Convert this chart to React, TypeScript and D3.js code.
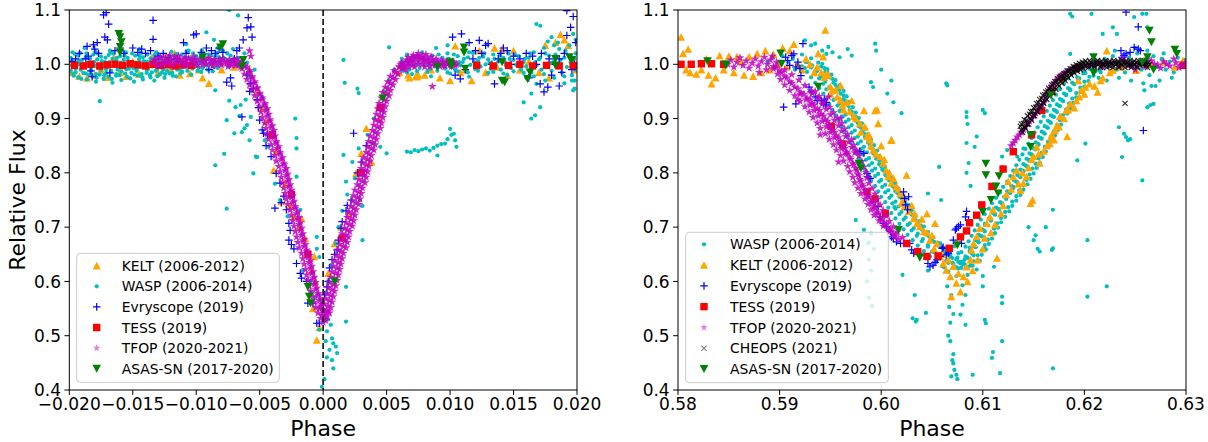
import React from "react";
import * as d3 from "d3";

type Pt = [number, number];

// ---------------- LEFT PANEL DATA (primary eclipse) ----------------
const keltL: Pt[] = [
  [-.0198,.985],[-.0192,.978],[-.0186,.975],[-.018,.98],[-.0175,.99],[-.017,.976],[-.0165,1.012],[-.016,.985],[-.0155,.978],[-.015,1.005],
  [-.0145,.982],[-.014,1.0],[-.0135,1.012],[-.013,.985],[-.0125,1.015],[-.012,.99],[-.0117,1.02],[-.0113,.98],[-.011,1.01],[-.0105,.983],
  [-.0101,1.0],[-.0098,.99],[-.0095,.975],[-.009,.965],[-.0086,1.0],[-.008,.99],[-.0075,1.005],[-.007,.995],[-.0065,1.0],
  [-.0058,.99],[-.0052,.95],[-.0048,.92],[-.0045,.895],[-.0039,.805],[-.0037,.84],[-.0033,.747],[-.0030,.78],[-.0026,.74],[-.0023,.72],
  [-.0017,.716],[-.0014,.679],[-.0019,.7],[-.0007,.646],[-.0009,.62],[-.0006,.6],[-.0005,.492],[-.0003,.515],[-.0008,.55],
  [.0004,.615],[.0009,.67],[.0014,.7],[.0020,.725],[.0026,.799],[.0030,.836],[.0034,.882],[.0038,.82],[.0044,.9],[.0050,.95],[.0074,.977],[.0067,.98],
  [.0060,.985],[.0068,.975],[.0075,.98],[.0085,.99],[.0092,.975],[.0098,1.005],[.0100,.97],[.0104,1.034],[.0108,.985],[.0112,.99],
  [.0117,.97],[.0123,1.025],[.0128,.985],[.0135,1.03],[.0137,.995],[.0141,1.028],[.0145,.98],[.0150,1.025],[.0155,.99],[.0162,1.005],
  [.0170,.985],[.0175,1.035],[.0178,.975],[.0183,1.04],[.0187,1.055],[.0190,1.045],[.0193,1.035],[.0196,1.0],[.0199,.99],[.0073,.978],[.0080,.98]
];

const waspLBand: Pt[] = [
  [-.0199,1.012],[-.0196,1.005],[-.0193,1.016],[-.0190,1.008],[-.0187,1.013],[-.0184,1.003],[-.0181,1.018],[-.0178,1.009],[-.0175,1.014],[-.0172,1.004],
  [-.0169,1.017],[-.0166,1.010],[-.0163,1.006],[-.0160,1.015],[-.0157,1.008],[-.0154,1.012],[-.0151,1.003],[-.0148,1.016],[-.0145,1.009],[-.0142,1.013],
  [-.0139,1.005],[-.0136,1.011],[-.0133,1.017],[-.0130,1.007],[-.0127,1.012],[-.0124,1.004],[-.0121,1.014],[-.0118,1.008],[-.0115,1.019],[-.0112,1.006],
  [-.0109,1.012],[-.0106,1.025],[-.0103,1.009],[-.0100,1.015],[-.0097,1.003],[-.0094,1.02],[-.0091,1.01],[-.0088,1.017],[-.0085,1.006],[-.0082,1.013],
  [-.0079,1.025],[-.0076,1.008],[-.0073,1.016],[-.0070,1.004],[-.0067,1.012],
  [-.0198,.998],[-.0195,.992],[-.0192,1.0],[-.0189,.994],[-.0186,.999],[-.0183,.99],[-.0180,.997],[-.0177,.993],[-.0174,1.0],[-.0171,.991],
  [-.0168,.996],[-.0165,.999],[-.0162,.99],[-.0159,.995],[-.0156,1.0],[-.0153,.992],[-.0150,.997],[-.0147,.99],[-.0144,.995],[-.0141,.999],
  [-.0138,.991],[-.0135,.996],[-.0132,.988],[-.0129,.995],[-.0126,.99],[-.0123,.998],[-.0119,.993],[-.0116,.999],[-.0113,.99],[-.0110,.996],
  [-.0104,.999],[-.0098,.994],[-.0092,.998],[-.0086,.995],[-.0080,.999],[-.0074,.996],[-.0068,.998],
  [-.0197,.982],[-.0193,.976],[-.0189,.984],[-.0186,.972],[-.0182,.978],[-.0179,.968],[-.0176,.981],[-.0173,.973],[-.0169,.977],[-.0166,.966],
  [-.0163,.979],[-.0159,.971],[-.0156,.983],[-.0152,.974],[-.0149,.968],[-.0146,.979],[-.0142,.972],[-.0139,.984],[-.0136,.976],[-.0133,.97],
  [-.0129,.981],[-.0125,.975],[-.0121,.983],[-.0116,.978],[-.0111,.986],[-.0104,.981],[-.0096,.986],
  [-.01985,1.006],[-.01955,1.019],[-.01925,1.006],[-.01895,1.0],[-.01865,1.02],[-.01835,1.01],[-.01805,1.004],[-.01775,1.02],[-.01745,1.006],[-.01715,1.012],
  [-.01685,1.004],[-.01655,1.02],[-.01625,1.012],[-.01595,1.003],[-.01565,1.016],[-.01535,1.006],[-.01505,1.02],[-.01475,1.003],[-.01445,1.015],[-.01415,1.006],
  [-.01385,1.018],[-.01355,1.004],[-.01325,1.01],[-.01295,1.018],[-.01265,1.003],[-.01235,1.01],[-.01205,1.006],[-.01175,1.015],[-.01145,1.004],[-.01115,1.018],
  [-.01085,1.004],[-.01055,1.012],[-.01025,1.02],[-.00995,1.008],[-.00965,1.014],[-.00935,1.004],[-.00905,1.018],[-.00875,1.008],[-.00845,1.015],[-.00815,1.004],
  [-.00785,1.012],[-.00755,1.02],[-.00725,1.006],[-.00695,1.01],
  [-.0199,.988],[-.0195,.985],[-.0191,.99],[-.0187,.983],[-.0183,.987],[-.0179,.982],[-.0175,.99],[-.0171,.984],[-.0167,.988],[-.0163,.982],
  [-.0159,.987],[-.0155,.991],[-.0151,.984],[-.0147,.988],[-.0143,.982],[-.0139,.99],[-.0135,.985],[-.0131,.991],[-.0127,.985],[-.0123,.988],
  [-.0119,.984],[-.0115,.99],[-.0111,.994],[-.0107,.988],[-.0103,.992],[-.0099,.988],[-.0095,.993],[-.0091,.99],[-.0087,.987],[-.0083,.993],
  [-.01975,1.022],[-.01915,1.021],[-.01855,1.002],[-.01795,1.023],[-.01735,.996],[-.01675,1.022],[-.01615,.997],[-.01555,1.022],[-.01495,.993],[-.01435,1.021],
  [-.01375,.997],[-.01315,1.022],[-.01255,.995],[-.01195,1.023],[-.01135,.997],[-.01075,1.024],[-.01015,.996],[-.00955,1.025],[-.00895,1.0],[-.00835,1.021],
  [-.01965,.979],[-.01905,.973],[-.01845,.981],[-.01785,.975],[-.01725,.98],[-.01665,.973],[-.01605,.98],[-.01545,.977],[-.01485,.981],[-.01425,.976],
  [-.01365,.98],[-.01305,.978],[-.01245,.982],[-.01185,.979],[-.01125,.983]
];

const waspLOut: Pt[] = [
  [-.0188,1.03],[-.0176,.932],[-.0168,1.025],[-.0145,1.028],[-.0108,1.037],[-.0092,1.059],[-.0086,1.045],[-.0080,1.035],[-.0074,1.1],[-.0067,1.09],
  [-.0083,1.03],[-.0071,1.028],[-.0062,1.02],[-.0060,1.003],
  [-.0085,.952],[-.0078,.835],[-.0085,.814],[-.0076,.734],[-.0074,.933],[-.0069,.921],[-.0065,.925],[-.0064,.875],[-.0066,.905],[-.0057,.903],
  [-.0055,.799],[-.0052,.829],[-.0046,.86],[-.0043,.848],[-.0076,.897],[-.0070,.873],[-.0062,.882],[-.0060,.888],[-.0058,.86],[-.0053,.83],
  [-.0061,.935],[-.0056,.95],[-.0048,.94],[-.0045,.92],[-.0022,.9],[-.0021,.864],[-.0021,.845],[-.0021,.793],[-.0018,.732],[-.0005,.682],
  [-.0005,.66],[-.0003,.645],[-.0058,.978],[-.0054,.99],[-.0038,.78],[-.0034,.75],[-.0028,.72],[-.0016,.62],[-.0010,.6],[-.0009,.58],[-.0006,.57],
  [-.0003,.511],[.0003,.508],[.0007,.495],[.0008,.486],[.0005,.474],[.0007,.455],[.0008,.44],[-.0001,.406],[.0001,.42],[.0018,.526],
  [.0018,.59],[.0004,.53],[.0010,.48],[.0011,.468],[.0003,.46],[.0002,.49],[.0006,.52],[-.0001,.56],[.0002,.58],[.0004,.6],[.0006,.63],
  [.0016,1.008],[.0017,.966],[.0028,.947],[.0027,.955],[.0016,.833],[.0028,.845],[.0039,.855],[.0045,.848],[.0050,.836],[.0031,.676],
  [.0031,.739],[.0029,.75],[.0018,.784],[.0019,.76],[.0015,.73],[.0023,.82],[.0025,.79],[.0012,.7],[.0010,.67],[.0035,.87],[.0040,.9],
  [.0048,.95],[.0052,1.031],[.0052,.97],[.0056,.99],
  [.0066,.839],[.0069,.838],[.0072,.842],[.0075,.84],[.0078,.843],[.0081,.845],[.0084,.841],[.0087,.846],[.0090,.832],[.0090,.85],
  [.0093,.853],[.0096,.854],[.0098,.862],[.0100,.881],[.0101,.87],[.0103,.872],[.0104,.86],[.0105,.848]
];

const waspLRight: Pt[] = [
  [.0062,1.01],[.0066,1.018],[.0070,1.006],[.0074,1.015],[.0078,1.022],[.0082,1.008],[.0086,1.016],[.0090,1.005],[.0094,1.012],[.0098,1.02],
  [.0102,1.007],[.0106,1.015],[.0110,1.004],[.0114,1.013],[.0118,1.021],[.0122,1.006],[.0126,1.014],[.0130,1.009],[.0134,1.018],[.0138,1.005],
  [.0142,1.012],[.0146,1.02],[.0150,1.008],[.0154,1.015],[.0158,1.004],[.0162,1.012],[.0166,1.022],[.0170,1.009],[.0174,1.03],[.0178,1.016],
  [.0182,1.006],[.0186,1.028],[.0190,1.012],[.0194,1.035],[.0198,1.01],
  [.0064,.996],[.0068,.99],[.0072,.998],[.0076,.993],[.0080,.999],[.0084,.991],[.0088,.996],[.0092,.999],[.0096,.992],[.0100,.997],
  [.0104,.99],[.0108,.998],[.0112,.993],[.0116,.999],[.0120,.991],[.0124,.996],[.0128,1.0],[.0132,.992],[.0136,.997],[.0140,.99],
  [.0144,.998],[.0148,.993],[.0152,.999],[.0156,.99],[.0160,.996],[.0164,.985],[.0168,.998],[.0172,.99],[.0176,.996],[.0180,.988],
  [.0184,.997],[.0188,.985],[.0192,.995],[.0196,.98],[.0199,.99],
  [.0063,1.004],[.0067,1.0],[.0071,1.014],[.0075,1.003],[.0079,1.012],[.0083,1.0],[.0087,1.007],[.0091,1.018],[.0095,1.004],[.0099,1.01],
  [.0103,1.018],[.0107,1.004],[.0111,1.01],[.0115,1.022],[.0119,1.004],[.0123,1.012],[.0127,1.02],[.0131,1.003],[.0135,1.01],[.0139,1.016],
  [.0143,1.004],[.0147,1.01],[.0151,1.018],[.0155,1.003],[.0159,1.01],[.0163,1.02],[.0167,1.004],[.0171,1.012],[.0175,1.02],[.0179,1.002],
  [.0183,1.018],[.0187,1.008],[.0191,1.025],[.0195,1.004],[.0199,1.02],
  [.0062,.988],[.0066,.985],[.0074,.987],[.0082,.986],[.0090,.988],[.0098,.985],[.0106,.987],[.0114,.985],[.0122,.988],[.0134,.986],
  [.0142,.983],[.0150,.987],[.0158,.984],[.0166,.978],[.0174,.982],[.0182,.975],[.0190,.978],[.0198,.97],
  [.0070,.982],[.0085,.978],[.0100,.983],[.0115,.977],[.0130,.984],[.0145,.98],[.0160,.975],[.0175,.97],[.0190,.965],[.0198,.955],[.0196,.97],
  [.0158,.93],[.0164,.946],[.0168,.964],[.0171,.921],[.0164,.9],[.0167,.906],[.0168,1.074],[.0171,1.071],[.0180,1.05],[.0177,1.042],
  [.0185,1.04],[.0197,.952],[.0197,1.056],[.0199,1.045],[.0182,1.035],[.0089,1.03],[.0098,1.035]
];

const evryL: Pt[] = [
  [-.0173,1.091],[-.0171,1.095],[-.0169,1.074],[-.0172,1.05],[-.0170,1.045],[-.0186,1.033],[-.0181,1.036],[-.0180,1.028],[-.0177,1.02],[-.0185,1.015],
  [-.0187,1.01],[-.0183,.988],[-.0182,.977],[-.0168,.984],[-.0164,1.025],[-.0160,1.03],[-.0157,1.02],[-.0150,1.03],[-.0146,1.022],[-.0143,1.028],
  [-.0140,1.02],[-.0136,1.025],[-.0134,1.046],[-.0134,1.081],[-.0130,1.015],[-.0126,1.02],[-.0122,1.012],[-.0115,1.01],[-.0108,1.02],[-.0102,1.054],
  [-.0100,1.056],[-.0096,1.022],[-.0092,1.03],[-.0088,1.025],[-.0085,1.02],[-.0082,1.03],[-.0079,1.022],[-.0076,.967],[-.0073,.975],[-.0070,1.01],
  [-.0068,1.025],[-.0066,1.03],[-.0063,1.045],[-.0060,1.067],[-.0059,1.086],[-.0057,1.069],[-.0056,1.05],[-.0195,1.01],[-.0192,1.02],[-.0198,1.005],
  [-.0178,1.04],[-.0110,1.04],[-.0090,.99],[-.0060,.98],[-.0072,.96],[-.0058,.95],[-.0064,.903],
  [-.0057,.965],[-.0055,.955],[-.0052,.935],[-.0051,.92],[-.0050,.897],[-.0048,.879],[-.0047,.873],[-.0045,.85],[-.0044,.87],[-.0041,.83],
  [-.0037,.799],[-.0034,.781],[-.0031,.757],[-.0029,.732],[-.0027,.707],[-.0026,.694],[-.0027,.676],[-.0025,.668],[-.0021,.633],[-.0018,.615],
  [-.0017,.606],[-.0013,.6],[-.0012,.56],[-.0008,.56],[-.0005,.523],[-.0003,.523],[-.0038,.735],[-.0033,.745],[-.0023,.66],
  [.0001,.575],[.0003,.59],[.0004,.6],[.0005,.625],[.0007,.64],[.0009,.65],[.0011,.658],[.0012,.676],[.0014,.698],[.0015,.71],
  [.0018,.73],[.0019,.74],[.0022,.75],[.0024,.873],[.0027,.8],[.0030,.82],[.0034,.85],
  [.0102,1.05],[.0109,1.056],[.0115,1.04],[.0123,1.044],[.0128,1.035],[.0130,1.038],[.0140,1.02],[.0145,1.025],[.0150,1.015],[.0108,.973],
  [.0104,.98],[.0112,.99],[.0118,1.01],[.0125,1.02],[.0135,.964],[.0138,1.01],[.0142,1.03],[.0155,1.01],[.0160,1.02],[.0165,1.015],
  [.0171,.964],[.0174,.949],[.0177,.958],[.0180,.98],[.0183,1.0],[.0186,1.01],[.0188,.985],[.0190,1.02],[.0192,1.053],[.0195,1.068],
  [.0197,1.088],[.0192,1.099],[.0198,1.0],[.0168,1.0],[.0172,1.02],[.0178,1.01],[.0196,.99],[.0199,1.04],[.0186,.96],[.0162,.975],
  [.0148,1.0],[.0133,1.0],[.0120,1.025]
];

const tessL: Pt[] = [
  [-.0196,.998],[-.0189,.997],[-.0183,1.0],[-.0176,.997],[-.0170,.999],[-.0164,1.0],[-.0158,.998],[-.0152,1.001],[-.0146,.999],[-.0140,.997],
  [-.0134,1.0],[-.0128,.998],[-.0122,.999],[-.0116,.997],[-.0110,.999],[-.0104,.998],
  [-.004,.87],[-.0025,.76],[-.0012,.65],[.0015,.68],[.003,.8],[.0045,.92],
  [.0121,.998],[.0134,.997],[.0146,.998],[.0155,1.0],[.0165,.997],[.0176,.998],[.0186,.997],[.0197,.998]
];

const tfopLFlat: Pt[] = [
  [-.0134,1.003],[-.0131,1.01],[-.0129,.999],[-.0127,1.007],[-.0124,1.012],[-.0122,1.002],[-.0120,1.009],[-.0117,1.014],[-.0115,1.004],[-.0113,1.01],
  [-.0110,.999],[-.0108,1.006],[-.0106,1.011],[-.0103,1.002],[-.0101,1.008],[-.0099,.998],[-.0096,1.005],[-.0094,1.01],[-.0092,1.0],[-.0089,1.006],
  [-.0087,.997],[-.0085,1.004],[-.0082,1.009],[-.0080,.999],[-.0078,1.005],[-.0075,.996],[-.0073,1.003],[-.0071,1.008],[-.0069,.998],[-.0067,1.004],
  [-.0065,.995],[-.0063,1.001],[-.0058,1.025],[-.0057,1.015],
  [-.0133,1.008],[-.0130,.997],[-.0128,1.013],[-.0125,1.0],[-.0123,1.006],[-.0121,1.016],[-.0118,.999],[-.0116,1.007],[-.0114,1.015],[-.0111,1.003],
  [-.0109,1.012],[-.0107,.998],[-.0104,1.007],[-.0102,1.014],[-.0100,1.003],[-.0097,1.01],[-.0095,.999],[-.0093,1.007],[-.0090,1.012],[-.0088,1.002],
  [-.0086,1.009],[-.0083,.999],[-.0081,1.005],[-.0079,1.011],[-.0076,1.002],[-.0074,1.008],[-.0072,.998],[-.0070,1.004],[-.0068,1.01],[-.0066,1.0],
  [-.0064,1.006],[-.0062,.997],
  [.0060,.995],[.0062,1.003],[.0064,.998],[.0066,1.008],[.0068,1.002],[.0070,1.012],[.0072,1.005],[.0074,1.015],[.0076,1.008],[.0078,1.016],
  [.0080,1.006],[.0082,1.012],[.0084,1.002],[.0086,1.008],[.0088,.998],[.0090,1.004],[.0092,.996],[.0094,1.003],[.0096,.997],[.0098,1.004],
  [.0100,.999],[.0102,1.005],[.0104,.998],[.0086,.959],[.0075,1.0],[.0080,.995],[.0070,.998],[.0065,.99],
  [.0061,1.0],[.0063,.993],[.0065,1.004],[.0067,1.013],[.0069,1.006],[.0071,1.017],[.0073,1.01],[.0075,1.02],[.0077,1.012],[.0079,1.008],
  [.0081,1.018],[.0083,1.005],[.0085,1.014],[.0087,1.003],[.0089,1.01],[.0091,1.0],[.0093,1.008],[.0095,.998],[.0097,1.006],[.0099,1.002],
  [.0101,.996],[.0103,1.003],[.0105,1.0],[.0072,.995],[.0078,1.0],[.0084,.996],[.0067,.996]
];

const tfopLArms: Pt[] = [
  [-.0064,.992],[-.0058,.988],[-.0062,.982],[-.0056,.977],[-.0060,.972],[-.0054,.968],[-.0058,.962],[-.0052,.957],[-.0056,.953],[-.0050,.947],
  [-.0054,.942],[-.0048,.938],[-.0052,.932],[-.0046,.928],[-.0050,.922],[-.0044,.918],[-.0049,.912],[-.0043,.908],[-.0048,.902],[-.0042,.898],
  [-.0046,.892],[-.0040,.887],[-.0045,.882],[-.0039,.878],[-.0044,.872],[-.0038,.868],[-.0043,.862],[-.0037,.858],[-.0041,.852],[-.0035,.848],
  [-.0040,.842],[-.0034,.838],[-.0038,.832],[-.0032,.828],[-.0037,.822],[-.0031,.818],[-.0035,.812],[-.0029,.808],[-.0034,.802],[-.0028,.798],
  [-.0033,.792],[-.0027,.788],[-.0032,.782],[-.0026,.778],[-.0031,.772],[-.0025,.768],[-.0030,.762],[-.0024,.758],[-.0029,.752],[-.0023,.748],
  [-.0028,.742],[-.0022,.738],[-.0026,.732],[-.0020,.728],[-.0025,.722],[-.0019,.718],[-.0024,.712],[-.0018,.708],[-.0023,.702],[-.0017,.698],
  [-.0022,.692],[-.0016,.688],[-.0021,.682],[-.0015,.678],[-.0020,.672],[-.0014,.668],[-.0019,.662],[-.0013,.658],[-.0017,.652],[-.0011,.648],
  [-.0016,.642],[-.0010,.638],[-.0015,.632],[-.0009,.628],[-.0014,.622],[-.0008,.618],[-.0013,.612],[-.0007,.608],[-.0012,.602],[-.0006,.598],
  [-.0011,.592],[-.0005,.588],[-.0010,.582],[-.0004,.578],[-.0008,.572],[-.0002,.568],[-.0007,.562],[-.0001,.558],[-.0006,.552],[.0000,.548],
  [-.0004,.542],[.0001,.538],[-.0002,.532],[.0002,.528],[.0000,.525],[.0003,.535],[-.0003,.55],[.0004,.545],
  [-.0060,.995],[-.0058,.985],[-.0056,.975],[-.0054,.965],[-.0052,.955],[-.0050,.945],[-.0048,.935],[-.0046,.925],[-.0045,.915],[-.0044,.905],
  [-.0042,.895],[-.0041,.885],[-.0040,.875],[-.0039,.865],[-.0037,.855],[-.0036,.845],[-.0034,.835],[-.0033,.825],[-.0031,.815],[-.0030,.805],
  [-.0029,.795],[-.0028,.785],[-.0027,.775],[-.0026,.765],[-.0025,.755],[-.0024,.745],[-.0022,.735],[-.0021,.725],[-.0020,.715],[-.0019,.705],
  [-.0018,.695],[-.0017,.685],[-.0016,.675],[-.0015,.665],[-.0013,.655],[-.0012,.645],[-.0011,.635],[-.0010,.625],[-.0009,.615],[-.0008,.605],
  [-.0007,.595],[-.0006,.585],[-.0004,.575],[-.0003,.565],[-.0002,.555],[.0000,.545],[.0001,.532],
  [-.0001,.538],[.0005,.542],[.0000,.548],[.0006,.552],[.0001,.558],[.0007,.562],[.0002,.568],[.0008,.572],[.0003,.578],[.0009,.582],
  [.0004,.588],[.0010,.592],[.0005,.598],[.0011,.602],[.0006,.608],[.0012,.612],[.0007,.618],[.0013,.622],[.0008,.628],[.0014,.632],
  [.0009,.638],[.0015,.642],[.0010,.648],[.0016,.652],[.0012,.658],[.0018,.662],[.0013,.668],[.0019,.672],[.0014,.678],[.0020,.682],
  [.0015,.688],[.0021,.692],[.0017,.698],[.0023,.702],[.0018,.708],[.0024,.712],[.0019,.718],[.0025,.722],[.0020,.728],[.0026,.732],
  [.0022,.738],[.0028,.742],[.0023,.748],[.0029,.752],[.0024,.758],[.0030,.762],[.0025,.768],[.0031,.772],[.0027,.778],[.0033,.782],
  [.0028,.788],[.0034,.792],[.0029,.798],[.0035,.802],[.0030,.808],[.0036,.812],[.0031,.818],[.0037,.822],[.0032,.828],[.0038,.832],
  [.0034,.838],[.0040,.842],[.0035,.848],[.0041,.852],[.0036,.858],[.0042,.862],[.0037,.868],[.0043,.872],[.0039,.878],[.0045,.882],
  [.0040,.888],[.0046,.892],[.0041,.898],[.0047,.902],[.0042,.908],[.0048,.912],[.0043,.918],[.0049,.922],[.0044,.928],[.0050,.932],
  [.0046,.938],[.0052,.942],[.0047,.948],[.0053,.952],[.0049,.958],[.0055,.962],[.0051,.968],[.0057,.972],[.0053,.978],[.0059,.982],
  [.0056,.988],[.0062,.992],
  [.0003,.545],[.0004,.555],[.0005,.565],[.0006,.575],[.0007,.585],[.0008,.595],[.0009,.605],[.0010,.615],[.0011,.625],[.0012,.635],
  [.0013,.645],[.0014,.655],[.0016,.665],[.0017,.675],[.0018,.685],[.0019,.695],[.0021,.705],[.0022,.715],[.0023,.725],[.0024,.735],
  [.0026,.745],[.0027,.755],[.0028,.765],[.0029,.775],[.0031,.785],[.0032,.795],[.0033,.805],[.0034,.815],[.0035,.825],[.0036,.835],
  [.0038,.845],[.0039,.855],[.0040,.865],[.0041,.875],[.0043,.885],[.0044,.895],[.0045,.905],[.0046,.915],[.0047,.925],[.0048,.935],
  [.0050,.945],[.0051,.955],[.0053,.965],[.0055,.975],[.0057,.985],[.0060,.995]
];

const asasL: Pt[] = [
  [-.0161,1.056],[-.0160,1.05],[-.0159,1.041],[-.0160,1.032],[-.0160,1.022],[-.0081,1.031],[-.0079,1.037],[-.0095,1.013],[-.0064,.996],[-.0063,1.008],
  [-.0012,.59],[-.0011,.572],[-.0010,.56],[.0009,.6],[.0047,.937],[.0090,.995],[.0100,1.004],[.0101,.997],[.0111,1.031],[.0111,1.022],
  [.0112,.992],[.0141,1.004],[.0141,.97],[.0143,.967],[.0161,.973],[.0163,.985],[.0183,1.01],[.0183,.998],[.0194,1.013],[.0196,1.008]
];

// ---------------- RIGHT PANEL DATA (secondary eclipse) ----------------
const waspRBand: Pt[] = [
  [.5888,1.005],[.5893,1.012],[.5898,1.0],[.5903,1.015],[.5908,1.005],[.5913,1.01],[.5918,.998],[.5922,1.018],[.5927,1.004],[.5931,1.011],[.5925,.993],[.5915,.99],
  [.5926,1.004],[.5932,.998],[.5938,1.003],[.5931,.994],[.5937,.988],[.5944,.993],[.5935,.984],[.5941,.978],[.5947,.985],[.5939,.974],[.5945,.968],[.5952,.973],
  [.5943,.964],[.5949,.958],[.5955,.962],[.5946,.954],[.5953,.948],[.5959,.953],[.5950,.944],[.5956,.937],[.5963,.943],[.5953,.934],[.5959,.928],[.5965,.932],
  [.5957,.924],[.5962,.918],[.5968,.923],[.5959,.914],[.5965,.907],[.5971,.913],[.5962,.904],[.5968,.898],[.5975,.903],[.5965,.894],[.5971,.888],[.5977,.892],
  [.5968,.884],[.5974,.878],[.5980,.883],[.5971,.874],[.5977,.867],[.5983,.873],[.5974,.864],[.5980,.858],[.5987,.863],[.5977,.854],[.5983,.848],[.5989,.852],
  [.5980,.844],[.5986,.838],[.5992,.843],[.5982,.834],[.5988,.827],[.5994,.833],[.5985,.824],[.5991,.818],[.5998,.823],[.5988,.814],[.5994,.808],[.6000,.812],
  [.5991,.804],[.5997,.798],[.6003,.803],[.5994,.794],[.6000,.787],[.6006,.793],[.5998,.784],[.6004,.778],[.6011,.783],[.6001,.774],[.6007,.768],[.6013,.772],
  [.6004,.764],[.6010,.758],[.6016,.763],[.6008,.754],[.6014,.747],[.6020,.753],[.6011,.744],[.6017,.738],[.6024,.743],[.6014,.734],[.6020,.728],[.6026,.732],
  [.6018,.724],[.6024,.718],[.6030,.723],[.6022,.714],[.6028,.707],[.6034,.713],[.6026,.704],[.6032,.698],[.6039,.703],[.6030,.694],[.6036,.688],[.6042,.692],
  [.6035,.684],[.6041,.678],[.6047,.683],[.6040,.674],[.6046,.667],[.6052,.673],[.6046,.664],[.6052,.658],[.6059,.663],[.6052,.654],[.6058,.648],[.6064,.652],
  [.6058,.644],[.6064,.638],[.6070,.643],[.6066,.634],[.6072,.627],[.6078,.633],
  [.5922,.996],[.5942,1.001],[.5927,.986],[.5947,.991],[.5941,.996],[.5931,.976],[.5951,.981],[.5945,.986],[.5935,.966],[.5955,.971],[.5949,.976],
  [.5939,.956],[.5959,.961],[.5953,.966],[.5943,.946],[.5963,.951],[.5957,.956],[.5946,.936],[.5966,.941],[.5960,.946],[.5949,.926],[.5969,.931],[.5963,.936],
  [.5952,.916],[.5972,.921],[.5966,.926],[.5955,.906],[.5975,.911],[.5969,.916],[.5958,.896],[.5978,.901],[.5972,.906],[.5961,.886],[.5981,.891],[.5975,.896],
  [.5964,.876],[.5984,.881],[.5978,.886],[.5967,.866],[.5987,.871],[.5981,.876],[.5970,.856],[.5990,.861],[.5984,.866],[.5973,.846],[.5993,.851],[.5987,.856],
  [.5976,.836],[.5996,.841],[.5990,.846],[.5978,.826],[.5998,.831],[.5992,.836],[.5981,.816],[.6001,.821],[.5995,.826],[.5984,.806],[.6004,.811],[.5998,.816],
  [.5987,.796],[.6007,.801],[.6001,.806],[.5990,.786],[.6010,.791],[.6004,.796],[.5994,.776],[.6014,.781],[.6008,.786],[.5997,.766],[.6017,.771],[.6011,.776],
  [.6000,.756],[.6020,.761],[.6014,.766],[.6004,.746],[.6024,.751],[.6018,.756],[.6007,.736],[.6027,.741],[.6021,.746],[.6010,.726],[.6030,.731],[.6024,.736],
  [.6014,.716],[.6034,.721],[.6028,.726],[.6018,.706],[.6038,.711],[.6032,.716],[.6022,.696],[.6042,.701],[.6036,.706],[.6026,.686],[.6046,.691],[.6040,.696],
  [.6031,.676],[.6051,.681],[.6045,.686],[.6036,.666],[.6056,.671],[.6050,.676],[.6042,.656],[.6062,.661],[.6056,.666],[.6048,.646],[.6068,.651],[.6062,.656],
  [.6054,.636],[.6074,.641],[.6068,.646],[.6062,.626],[.6082,.631],[.6076,.636],
  [.6050,.655],[.6055,.64],[.6060,.628],[.6062,.66],[.6066,.618],[.6068,.645],[.6071,.632],[.6074,.61],[.6076,.652],[.6079,.625],[.6082,.64],[.6085,.612],
  [.6088,.63],[.6091,.648],[.6094,.622],[.6097,.638],[.6100,.61],[.6058,.67],[.6072,.665],[.6087,.662],[.6102,.66],[.6046,.62],[.6040,.65],
  [.6074,.626],[.6080,.632],[.6086,.627],[.6079,.636],[.6085,.643],[.6091,.637],[.6083,.646],[.6089,.652],[.6095,.648],[.6087,.656],[.6093,.663],[.6099,.657],
  [.6090,.666],[.6096,.672],[.6102,.667],[.6093,.676],[.6099,.683],[.6105,.677],[.6096,.686],[.6102,.692],[.6108,.688],[.6099,.696],[.6105,.703],[.6111,.697],
  [.6102,.706],[.6108,.712],[.6114,.707],[.6106,.716],[.6112,.723],[.6118,.717],[.6110,.726],[.6116,.732],[.6122,.728],[.6113,.736],[.6119,.743],[.6125,.737],
  [.6117,.746],[.6123,.752],[.6129,.747],[.6121,.756],[.6127,.763],[.6133,.757],[.6124,.766],[.6130,.772],[.6136,.768],[.6128,.776],[.6134,.783],[.6140,.777],
  [.6131,.786],[.6137,.792],[.6143,.787],[.6134,.796],[.6140,.803],[.6146,.797],[.6137,.806],[.6143,.812],[.6149,.808],[.6140,.816],[.6146,.823],[.6152,.817],
  [.6143,.826],[.6149,.832],[.6155,.827],[.6146,.836],[.6152,.843],[.6158,.837],[.6149,.846],[.6155,.852],[.6161,.848],[.6152,.856],[.6158,.863],[.6164,.857],
  [.6155,.866],[.6161,.872],[.6167,.867],[.6158,.876],[.6164,.883],[.6170,.877],[.6161,.886],[.6167,.892],[.6173,.888],[.6164,.896],[.6170,.903],[.6176,.897],
  [.6167,.906],[.6173,.912],[.6179,.907],[.6170,.916],[.6176,.923],[.6182,.917],[.6173,.926],[.6179,.932],[.6185,.928],[.6176,.936],[.6182,.943],[.6188,.937],
  [.6180,.946],[.6186,.952],[.6192,.947],[.6184,.956],[.6190,.963],[.6196,.957],[.6188,.966],[.6194,.972],[.6200,.968],[.6193,.976],[.6199,.983],[.6205,.977],
  [.6199,.986],[.6205,.992],[.6211,.987],
  [.6070,.634],[.6090,.629],[.6076,.624],[.6075,.644],[.6095,.639],[.6081,.634],[.6079,.654],[.6099,.649],[.6085,.644],[.6083,.664],[.6103,.659],[.6089,.654],
  [.6086,.674],[.6106,.669],[.6092,.664],[.6089,.684],[.6109,.679],[.6095,.674],[.6092,.694],[.6112,.689],[.6098,.684],[.6095,.704],[.6115,.699],[.6101,.694],
  [.6098,.714],[.6118,.709],[.6104,.704],[.6102,.724],[.6122,.719],[.6108,.714],[.6106,.734],[.6126,.729],[.6112,.724],[.6109,.744],[.6129,.739],[.6115,.734],
  [.6113,.754],[.6133,.749],[.6119,.744],[.6117,.764],[.6137,.759],[.6123,.754],[.6120,.774],[.6140,.769],[.6126,.764],[.6124,.784],[.6144,.779],[.6130,.774],
  [.6127,.794],[.6147,.789],[.6133,.784],[.6130,.804],[.6150,.799],[.6136,.794],[.6133,.814],[.6153,.809],[.6139,.804],[.6136,.824],[.6156,.819],[.6142,.814],
  [.6139,.834],[.6159,.829],[.6145,.824],[.6142,.844],[.6162,.839],[.6148,.834],[.6145,.854],[.6165,.849],[.6151,.844],[.6148,.864],[.6168,.859],[.6154,.854],
  [.6151,.874],[.6171,.869],[.6157,.864],[.6154,.884],[.6174,.879],[.6160,.874],[.6157,.894],[.6177,.889],[.6163,.884],[.6160,.904],[.6180,.899],[.6166,.894],
  [.6163,.914],[.6183,.909],[.6169,.904],[.6166,.924],[.6186,.919],[.6172,.914],[.6169,.934],[.6189,.929],[.6175,.924],[.6172,.944],[.6192,.939],[.6178,.934],
  [.6176,.954],[.6196,.949],[.6182,.944],[.6180,.964],[.6200,.959],[.6186,.954],[.6184,.974],[.6204,.969],[.6190,.964],[.6189,.984],[.6209,.979],[.6195,.974],
  [.6195,.994],[.6215,.989],[.6201,.984],
  [.6208,.99],[.6212,1.005],[.6216,.985],[.6220,1.01],[.6224,.995],[.6228,1.015],[.6232,.99],[.6236,1.008],[.6240,.985],[.6244,1.012],[.6248,.995],[.6252,1.02],
  [.6256,.99],[.6260,1.005],[.6264,.98],[.6268,1.015],[.6272,.995],[.6276,1.01],[.6280,.99],[.6284,1.005],[.6288,.985],[.6292,1.012],[.6296,.995],[.6299,1.008],
  [.6214,.975],[.6222,.97],[.6234,.975],[.6246,.97],[.6258,.965],[.6266,.96],[.6274,.97],[.6286,.975],[.6230,1.025],[.6250,1.03],[.6262,1.025],[.6278,1.02]
];

const waspROut: Pt[] = [
  [.5925,1.044],[.5931,1.035],[.5935,1.038],[.5942,1.025],[.5946,1.019],[.5948,1.032],[.5952,1.022],[.5959,1.013],[.5967,1.028],[.5971,1.016],[.5990,.967],
  [.5992,.958],[.5994,1.038],[.5995,1.025],[.6006,.946],[.6012,.93],[.6020,.91],[.5975,.713],[.5983,.695],[.5990,.688],[.5988,.672],[.5993,.66],[.6013,.737],
  [.6021,.612],[.6031,.532],[.6034,.526],[.6044,.542],[.6046,.762],[.6057,.811],[.6059,.75],[.6065,.961],[.6065,.591],[.6069,.575],[.6067,.553],[.6071,.54],
  [.6068,.524],[.6066,.5],[.6068,.49],[.6071,.466],[.6070,.455],[.6072,.437],[.6075,.42],[.6074,.428],[.6080,.593],[.6083,.575],[.6080,.557],[.6078,.539],
  [.6083,.52],[.6084,.912],[.6084,.903],[.6085,.89],[.6084,.855],[.6086,.818],[.6084,.8],[.6088,.776],[.6092,.848],[.6090,.428],[.6100,.591],[.6102,.529],
  [.6103,.523],[.6109,.459],[.6110,.47],[.6117,.431],[.6119,.49],[.6124,.842],[.6094,.867],[.6100,.916],[.6102,.91],[.6119,.83],[.6119,.81],[.6134,.83],
  [.6140,.845],[.6145,.7],[.6152,.685],[.6154,.66],[.6156,.655],[.6162,.7],[.6169,.732],[.6169,.661],[.6169,.44],[.6186,1.019],[.6186,1.093],[.6188,1.088],
  [.6193,.823],[.6201,.854],[.6203,.676],[.6203,.572],[.6207,1.093],[.6218,1.056],[.6222,.591],[.6228,1.068],[.6232,1.056],[.6234,.884],[.6237,.829],
  [.6239,.872],[.6241,.866],[.6243,.86],[.6245,.862],[.6249,1.087],[.6257,1.093],[.6261,1.093],[.6262,1.068],[.6257,.786],[.6259,.952],[.6262,.921],
  [.6265,.925],[.6268,.927],[.6270,.96],[.6000,.99],[.6010,.97],[.5955,.62],[.5950,.595],[.5963,.59],[.5987,.67],[.5988,.64],[.5990,.62],[.5986,.6],
  [.5988,.57],[.5991,.555],[.6033,.575],[.6035,.529],[.6064,.965],[.6111,.627],[.6119,.572],[.6119,.56],[.6168,.658],[.6150,.676],[.6071,.449],[.6069,.425]
];

const keltR: Pt[] = [
  [.5803,1.05],[.5810,1.028],[.5805,1.02],[.5808,.99],[.5812,.985],[.5818,.982],[.5823,.99],[.5828,1.01],[.5830,.98],[.5833,.964],[.5837,.975],[.5841,1.016],
  [.5845,.99],[.5850,1.015],[.5855,.985],[.5858,1.014],[.5862,1.005],[.5865,.98],[.5870,1.014],[.5874,.978],[.5878,1.02],[.5882,.985],[.5886,1.025],[.5890,.99],
  [.5894,1.018],[.5898,1.0],[.5903,1.03],[.5907,.995],[.5910,1.025],[.5914,1.037],[.5918,1.0],[.5922,.99],[.5926,1.01],[.5930,1.0],[.5934,.985],[.5938,1.02],
  [.5937,.995],[.5941,.985],[.5944,.976],[.5948,.98],[.5945,1.063],[.5943,1.014],[.5946,.983],[.5950,.959],[.5955,.953],[.5960,.934],[.5963,.916],[.5969,.913],
  [.5973,.904],[.5979,.891],[.5984,.885],[.5986,.867],[.5989,.861],[.5992,.842],[.5996,.916],[.5997,.891],[.5999,.830],[.6002,.818],[.6005,.805],[.6010,.861],
  [.6007,.793],[.6010,.781],[.6015,.775],[.6019,.762],[.6020,.744],[.6023,.738],[.6025,.796],[.6027,.729],[.6032,.716],[.6035,.707],[.6038,.701],[.6042,.692],
  [.6045,.725],[.6048,.676],[.6053,.707],[.6055,.670],[.6058,.646],[.6061,.633],[.6064,.621],[.6068,.609],[.6069,.572],[.6074,.597],[.6078,.581],[.6081,.609],
  [.6084,.627],[.6088,.640],[.6089,.658],[.6091,.670],[.6094,.683],[.6097,.698],[.6104,.707],[.6107,.719],[.6110,.732],[.6114,.643],[.6125,.784],[.6130,.793],
  [.6133,.805],[.6137,.768],[.6140,.781],[.6143,.793],[.6147,.744],[.6150,.830],[.6153,.848],[.6156,.818],[.6166,.854],[.6170,.861],[.6173,.888],[.6176,.904],
  [.6183,.867],[.6184,.916],[.6182,.915],[.6186,.927],[.6192,.933],[.6197,.952],[.6205,.964],[.6216,.970],[.6213,.949],[.6194,.97],[.6201,.958],[.6222,1.025],
  [.6228,.989],[.6266,1.0],[.6278,1.004],[.6289,.995],[.6297,1.007],[.6236,.995],[.6251,.989],[.6167,.866],[.6171,.878],[.6149,.75],[.5952,.952],[.5960,.961],
  [.5971,.933],[.5983,.915],[.5994,.915],[.6010,.86],
  [.5950,.945],[.5957,.94],[.5962,.925],[.5966,.93],[.5975,.9],[.5980,.875],[.5988,.87],[.5990,.85],[.5995,.835],[.6000,.85],[.6003,.825],[.6008,.8],
  [.6012,.79],[.6017,.77],[.6022,.752],[.6030,.74],[.6033,.725],[.6040,.715],[.6045,.69],[.6050,.685],[.6052,.66],[.6060,.65],[.6066,.64],[.6071,.628],
  [.6076,.615],[.6085,.6],[.6090,.62],[.6095,.64],[.6100,.66],[.6102,.68],[.6108,.69],[.6112,.705],[.6118,.725],[.6120,.74],[.6123,.76],[.6128,.77],
  [.6135,.78],[.6139,.8],[.6145,.81],[.6148,.825],[.6155,.835],[.6160,.84],[.6163,.85],[.6168,.87],[.6175,.885],[.6180,.9],[.6190,.92],[.6195,.94],
  [.6200,.945],[.6210,.96],[.6218,.975],[.6225,.985]
];

const evryR: Pt[] = [
  [.5906,1.013],[.5908,1.007],[.5910,.998],[.5912,1.016],[.5914,1.019],[.5916,.995],[.5918,1.004],[.5920,.992],[.5921,.979],[.5923,1.038],[.5904,.921],
  [.5916,.927],[.5929,.958],[.5931,.949],[.5935,.94],[.5937,.933],[.5941,.933],[.5944,.936],[.5946,.93],[.5943,.927],[.5945,.925],
  [.5979,.839],[.5983,.836],[.5986,.799],[.5987,.793],[.5989,.79],[.5994,.747],[.5997,.738],[.5999,.719],[.6002,.707],[.6005,.701],[.6009,.692],[.6010,.682],
  [.6012,.679],[.6015,.673],[.6019,.670],[.6022,.765],[.6023,.753],[.6024,.741],[.6026,.732],[.6027,.756],[.6028,.670],[.6030,.658],[.6032,.652],[.6046,.633],
  [.6048,.627],[.6051,.630],[.6053,.635],[.6055,.640],[.6058,.646],[.6060,.661],[.6061,.663],[.6064,.649],[.6066,.652],[.6071,.676],[.6073,.695],[.6074,.698],
  [.6076,.701],[.6078,.704],[.6079,.670],[.6083,.719],[.6084,.729],[.6086,.713],
  [.6236,1.025],[.6239,1.016],[.6241,1.019],[.6245,1.022],[.6249,1.031],[.6253,1.028],[.6255,1.025],[.6241,1.096],[.6253,1.069],[.6258,.878],[.6237,1.013]
];

const tessR: Pt[] = [
  [.5803,1.0],[.5813,1.0],[.5823,1.001],[.5833,1.001],[.5845,1.0],[.5951,.886],[.5962,.853],[.5986,.765],[.5994,.752],[.6004,.725],[.6025,.670],
  [.6036,.655],[.6045,.646],[.6056,.647],[.6067,.661],[.6078,.682],[.6084,.693],[.6087,.708],[.6094,.722],[.6099,.741],[.6109,.775],[.6120,.807],
  [.6130,.839],[.6148,.87],[.6158,.915],[.6168,.95],[.6178,.975],[.6192,.992],[.6297,.998]
];

const tfopR: Pt[] = [
  [.5849,1.0],[.5852,1.008],[.5855,.995],[.5858,1.004],[.5861,1.012],[.5864,.998],[.5867,1.006],[.5870,.993],[.5873,1.002],[.5876,1.01],[.5879,.997],
  [.5882,1.005],[.5885,1.013],[.5888,1.0],[.5891,1.008],[.5894,.996],[.5897,1.004],[.5880,.985],[.5887,.99],[.5893,1.015],
  [.5894,.992],[.5900,.988],[.5905,.99],[.5898,.982],[.5905,.978],[.5912,.981],[.5901,.972],[.5910,.968],[.5919,.971],[.5905,.962],[.5915,.958],[.5925,.961],
  [.5910,.952],[.5921,.948],[.5931,.951],[.5915,.942],[.5927,.938],[.5939,.941],[.5920,.932],[.5932,.928],[.5944,.931],[.5925,.922],[.5937,.918],[.5949,.921],
  [.5929,.912],[.5941,.908],[.5953,.911],[.5933,.902],[.5945,.898],[.5957,.901],[.5937,.892],[.5949,.888],[.5961,.891],[.5940,.882],[.5952,.878],[.5964,.881],
  [.5945,.872],[.5956,.868],[.5967,.871],[.5949,.862],[.5960,.858],[.5971,.861],[.5953,.852],[.5963,.848],[.5973,.851],[.5956,.842],[.5966,.838],[.5976,.841],
  [.5960,.832],[.5969,.828],[.5978,.831],[.5963,.822],[.5972,.818],[.5981,.821],[.5967,.812],[.5975,.808],[.5983,.811],[.5969,.802],[.5977,.798],[.5985,.801],
  [.5972,.792],[.5979,.788],[.5986,.791],[.5974,.782],[.5981,.778],[.5988,.781],[.5977,.772],[.5984,.768],[.5991,.771],[.5980,.762],[.5987,.758],[.5994,.761],
  [.5984,.752],[.5990,.748],[.5996,.751],[.5987,.742],[.5993,.738],[.5999,.741],[.5990,.732],[.5996,.728],[.6002,.731],[.5993,.722],[.5999,.718],[.6005,.721],
  [.5998,.712],[.6003,.708],[.6008,.711],[.6002,.702],[.6007,.698],[.6012,.701],[.6008,.692],[.6012,.688],[.6016,.691],[.6013,.682],[.6017,.678],[.6021,.681],
  [.5935,.95],[.5948,.94],[.5918,.935],[.5960,.9],[.5940,.87],[.5975,.84],[.5958,.82],
  [.5897,.995],[.5902,.985],[.5907,.975],[.5912,.965],[.5918,.955],[.5924,.945],[.5930,.935],[.5934,.925],[.5939,.915],[.5943,.905],[.5947,.895],[.5950,.885],
  [.5954,.875],[.5958,.865],[.5961,.855],[.5964,.845],[.5967,.835],[.5970,.825],[.5973,.815],[.5976,.805],[.5978,.795],[.5980,.785],[.5982,.775],[.5985,.765],
  [.5988,.755],[.5991,.745],[.5994,.735],[.5997,.725],[.6001,.715],[.6005,.705],[.6009,.695],[.6014,.685],
  [.5920,.945],[.5932,.947],[.5926,.935],[.5938,.937],[.5930,.925],[.5942,.927],[.5934,.915],[.5946,.917],[.5938,.905],[.5950,.907],[.5942,.895],[.5954,.897],
  [.5946,.885],[.5958,.887],[.5950,.875],[.5961,.877],[.5954,.865],[.5965,.867],[.5958,.855],[.5968,.857],[.5961,.845],[.5971,.847],[.5965,.835],[.5974,.837],
  [.6128,.85],[.6132,.86],[.6136,.87],[.6140,.88],[.6144,.89],[.6148,.90],[.6152,.91],[.6156,.92],[.6160,.93],[.6163,.945],[.6166,.955],[.6170,.965],
  [.6174,.975],[.6178,.98],[.6182,.985],[.6187,.99],[.6192,.993],[.6197,.996],[.6203,.998],
  [.6130,.855],[.6134,.866],[.6138,.875],[.6142,.885],[.6146,.895],[.6150,.905],[.6154,.915],[.6158,.925],[.6161,.935],[.6165,.95],[.6168,.96],[.6172,.97],
  [.6176,.978],[.6180,.983],[.6185,.988],[.6190,.992],[.6195,.995],[.6200,.998],[.6206,.999],[.6215,1.002],[.6222,1.0],
  [.6210,1.0],[.6218,.995],[.6226,1.003],[.6233,.998],[.6240,1.005],[.6247,.997],[.6254,1.004],[.6260,.996],[.6266,1.006],[.6272,.999],[.6278,1.005],
  [.6284,.997],[.6290,1.003],[.6296,.998],[.6299,1.002],[.6262,1.01],[.6275,.993],[.6288,1.01],[.6250,.99],[.6237,1.01],[.6269,1.0],[.6281,1.0],
  [.6293,.994],[.6257,1.0],[.6244,1.0]
];

const cheopsR: Pt[] = [
  [.6137,.886],[.6138,.879],[.6140,.891],[.6141,.884],[.6143,.897],[.6144,.89],[.6146,.908],[.6147,.9],[.6149,.913],[.6150,.906],[.6152,.921],[.6153,.914],
  [.6155,.929],[.6156,.922],[.6158,.937],[.6159,.93],[.6161,.944],[.6162,.938],[.6164,.951],[.6165,.945],[.6167,.957],[.6168,.951],[.6170,.964],[.6171,.957],
  [.6173,.969],[.6174,.963],[.6176,.975],[.6177,.969],[.6179,.979],[.6180,.974],[.6182,.984],[.6183,.979],[.6185,.988],[.6186,.983],[.6188,.992],[.6189,.987],
  [.6191,.995],[.6192,.99],[.6194,.998],[.6195,.993],[.6197,1.0],[.6198,.995],[.6200,1.002],[.6201,.997],
  [.6203,1.003],[.6204,.998],[.6206,1.004],[.6207,.998],[.6209,1.002],[.6210,.997],[.6212,1.004],[.6213,.999],[.6215,1.003],[.6216,.997],[.6218,1.002],
  [.6219,.998],[.6221,1.004],[.6222,.999],[.6224,1.003],[.6225,.997],[.6227,1.002],[.6228,.998],[.6230,1.004],[.6231,.999],[.6233,1.003],[.6234,.997],
  [.6236,1.002],[.6237,.998],[.6239,1.004],[.6240,.999],[.6242,1.003],[.6243,.997],[.6245,1.002],[.6246,.998],[.6248,1.004],[.6249,.999],[.6251,1.003],
  [.6252,.997],[.6254,1.002],[.6255,.998],[.6257,1.003],[.6258,.999],[.6240,.928],
  [.6138,.89],[.6141,.898],[.6144,.905],[.6147,.913],[.6150,.92],[.6153,.928],[.6156,.935],[.6159,.943],[.6162,.949],[.6165,.956],[.6168,.962],[.6171,.968],
  [.6174,.973],[.6177,.978],[.6180,.983],[.6183,.988],[.6186,.992],[.6189,.996],[.6192,.999],[.6195,1.002],[.6198,1.004],[.6201,1.006],[.6205,1.007],[.6209,1.006],
  [.6213,1.007],[.6217,1.006],[.6221,1.007],[.6225,1.006],[.6229,1.007],[.6233,1.006],[.6237,1.007],[.6241,1.006],[.6245,1.007],[.6249,1.006],[.6253,1.007],[.6257,1.006],
  [.6139,.875],[.6142,.882],[.6145,.89],[.6148,.897],[.6151,.905],[.6154,.912],[.6157,.92],[.6160,.928],[.6163,.935],[.6166,.942],[.6169,.948],[.6172,.954],
  [.6175,.96],[.6178,.965],[.6181,.97],[.6184,.975],[.6187,.98],[.6190,.984],[.6193,.987],[.6196,.99],[.6199,.992],[.6204,.994],[.6210,.994],[.6216,.994],
  [.6222,.994],[.6228,.994],[.6234,.994],[.6240,.994],[.6246,.994],[.6252,.994],
  [.6260,1.003],[.6261,.998],[.6263,1.004],[.6264,.999],[.6259,1.006],[.6262,.994]
];

const asasR: Pt[] = [
  [.5829,1.006],[.5847,.998],[.5847,1.0],[.5901,1.02],[.5902,1.001],[.5938,.959],[.5978,.817],[.5980,.808],[.6017,.695],[.6038,.644],[.6075,.667],
  [.6100,.728],[.6103,.817],[.6103,.796],[.6108,.75],[.6115,.762],[.6116,.794],[.6113,.775],[.6147,.87],[.6147,.848],[.6167,.943],[.6209,1.013],
  [.6209,.984],[.6257,1.004],[.6262,1.013],[.6264,1.062],[.6266,1.041],[.6268,.99],[.6289,1.027],[.6291,1.019]
];

// ---------------- TICKS ----------------
const yTicks = [0.4, 0.5, 0.6, 0.7, 0.8, 0.9, 1.0, 1.1];
const leftXTicks = [-0.02, -0.015, -0.01, -0.005, 0, 0.005, 0.01, 0.015, 0.02];
const rightXTicks = [0.58, 0.59, 0.6, 0.61, 0.62, 0.63];

// ---------------- MARKERS ----------------
type Kind = "dot" | "tri" | "plus" | "sq" | "star" | "x" | "tridown";
const starPlot = d3.symbol().type(d3.symbolStar).size(24)() as string;
const starLegend = d3.symbol().type(d3.symbolStar).size(18)() as string;

function Marker({ kind, x, y, legend }: { kind: Kind; x: number; y: number; legend?: boolean }) {
  const t = `translate(${x},${y})`;
  switch (kind) {
    case "dot":
      return <circle cx={x} cy={y} r={2.1} fill="#00bfbf" />;
    case "tri":
      return <path transform={t} d="M0,-3.9L4,3.7L-4,3.7Z" fill="#ffa500" />;
    case "tridown":
      return <path transform={t} d="M0,4.1L4.3,-3.9L-4.3,-3.9Z" fill="#008000" />;
    case "sq":
      return <rect x={x - 3.7} y={y - 3.7} width={7.4} height={7.4} fill="#ff0000" />;
    case "plus":
      return <path transform={t} d="M-3.8,0H3.8M0,-3.8V3.8" stroke="#0000ff" strokeWidth={1.2} fill="none" />;
    case "star":
      return <path transform={t} d={legend ? starLegend : starPlot} fill="#bf00bf" fillOpacity={legend ? 0.5 : 0.85} />;
    case "x":
      return <path transform={t} d="M-2.6,-2.6L2.6,2.6M-2.6,2.6L2.6,-2.6" stroke="#000" strokeOpacity={legend ? 0.5 : 0.85} strokeWidth={1.1} fill="none" />;
  }
}

interface Series { label: string; kind: Kind; data: Pt[] }

const FONT = "DejaVu Sans, sans-serif";

function Panel(props: {
  id: string;
  x0: number; x1: number;
  domain: [number, number];
  xticks: number[];
  fmt: (v: number) => string;
  series: Series[];
  legend: { x: number; y: number; w: number; h: number; row0: number; step: number; mx: number; tx: number };
  vline?: number;
  yLabel?: boolean;
}) {
  const { x0, x1, domain, xticks, fmt, series, legend } = props;
  const top = 10, bottom = 390;
  const xs = d3.scaleLinear().domain(domain).range([x0, x1]);
  const ys = d3.scaleLinear().domain([0.4, 1.1]).range([bottom, top]);
  const fmtY = d3.format(".1f");
  return (
    <g fontFamily={FONT}>
      <defs>
        <clipPath id={props.id}>
          <rect x={x0} y={top} width={x1 - x0} height={bottom - top} />
        </clipPath>
      </defs>
      <g clipPath={`url(#${props.id})`}>
        {series.map((s, si) => (
          <g key={si}>
            {s.data.map((d, i) => (
              <Marker key={i} kind={s.kind} x={xs(d[0])} y={ys(d[1])} />
            ))}
          </g>
        ))}
        {props.vline !== undefined && (
          <line x1={xs(props.vline)} x2={xs(props.vline)} y1={top} y2={bottom} stroke="#222" strokeWidth={1.8} strokeDasharray="6,3" />
        )}
      </g>
      <rect x={x0} y={top} width={x1 - x0} height={bottom - top} fill="none" stroke="#000" strokeWidth={1} />
      {yTicks.map((v) => (
        <g key={v}>
          <line x1={x0 - 4.9} x2={x0} y1={ys(v)} y2={ys(v)} stroke="#000" strokeWidth={1} />
          <text x={x0 - 8.3} y={ys(v) + 6.2} textAnchor="end" fontSize={17} fill="#000">{fmtY(v)}</text>
        </g>
      ))}
      {xticks.map((v) => (
        <g key={v}>
          <line x1={xs(v)} x2={xs(v)} y1={bottom} y2={bottom + 4.9} stroke="#000" strokeWidth={1} />
          <text x={xs(v)} y={410} textAnchor="middle" fontSize={17} fill="#000">{fmt(v)}</text>
        </g>
      ))}
      <text x={(x0 + x1) / 2} y={436} textAnchor="middle" fontSize={22} fill="#000">Phase</text>
      {props.yLabel && (
        <text transform={`translate(25,${(top + bottom) / 2}) rotate(-90)`} textAnchor="middle" fontSize={22} fill="#000">Relative Flux</text>
      )}
      <g>
        <rect x={legend.x} y={legend.y} width={legend.w} height={legend.h} rx={3.5} fill="#fff" fillOpacity={0.8} stroke="#cccccc" strokeWidth={1} />
        {series.map((s, i) => {
          const cy = legend.row0 + i * legend.step;
          return (
            <g key={i}>
              <Marker kind={s.kind} x={legend.mx} y={cy} legend />
              <text x={legend.tx} y={cy + 5.1} fontSize={13.9} fill="#000">{s.label}</text>
            </g>
          );
        })}
      </g>
    </g>
  );
}

export default function App() {
  const waspL: Pt[] = [...waspLBand, ...waspLOut, ...waspLRight];
  const tfopL: Pt[] = [...tfopLFlat, ...tfopLArms];
  const waspR: Pt[] = [...waspRBand, ...waspROut];
  const leftSeries: Series[] = [
    { label: "KELT (2006-2012)", kind: "tri", data: keltL },
    { label: "WASP (2006-2014)", kind: "dot", data: waspL },
    { label: "Evryscope (2019)", kind: "plus", data: evryL },
    { label: "TESS (2019)", kind: "sq", data: tessL },
    { label: "TFOP (2020-2021)", kind: "star", data: tfopL },
    { label: "ASAS-SN (2017-2020)", kind: "tridown", data: asasL },
  ];
  const rightSeries: Series[] = [
    { label: "WASP (2006-2014)", kind: "dot", data: waspR },
    { label: "KELT (2006-2012)", kind: "tri", data: keltR },
    { label: "Evryscope (2019)", kind: "plus", data: evryR },
    { label: "TESS (2019)", kind: "sq", data: tessR },
    { label: "TFOP (2020-2021)", kind: "star", data: tfopR },
    { label: "CHEOPS (2021)", kind: "x", data: cheopsR },
    { label: "ASAS-SN (2017-2020)", kind: "tridown", data: asasR },
  ];
  const fmtL = d3.format(".3f");
  const fmtR = d3.format(".2f");
  return (
    <svg width={1208} height={442} style={{ position: "absolute", left: 0, top: 0, background: "#fff" }}>
      <rect width={1208} height={442} fill="#fff" />
      <Panel
        id="clipL" x0={69.3} x1={577} domain={[-0.02, 0.02]} xticks={leftXTicks} fmt={fmtL}
        series={leftSeries} vline={0} yLabel
        legend={{ x: 76.7, y: 253.3, w: 202.6, h: 129, row0: 265.7, step: 20.6, mx: 96.7, tx: 121.7 }}
      />
      <Panel
        id="clipR" x0={678} x1={1186} domain={[0.58, 0.63]} xticks={rightXTicks} fmt={fmtR}
        series={rightSeries}
        legend={{ x: 685.7, y: 232.3, w: 202.6, h: 150.4, row0: 244.3, step: 20.78, mx: 704, tx: 730 }}
      />
    </svg>
  );
}
